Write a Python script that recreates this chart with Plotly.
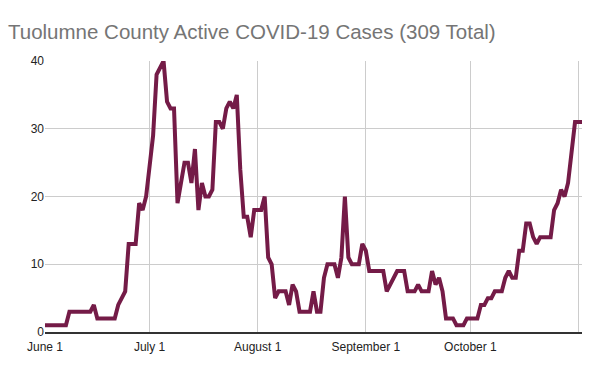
import pandas as pd
import plotly.graph_objects as go

start_date = "2020-06-01"
active_cases = [
    1, 1, 1, 1, 1, 1, 1,          # Jun 1-7
    3, 3, 3, 3, 3, 3, 3,          # Jun 8-14
    4, 2, 2, 2, 2, 2, 2,          # Jun 15-21
    4, 5, 6, 13, 13, 13, 19, 18, 20,  # Jun 22-30
    24, 29, 38, 39, 40, 34, 33, 33, 19, 22, 25, 25, 22, 27, 18, 22,
    20, 20, 21, 31, 31, 30, 33, 34, 33, 35, 24, 17, 17, 14, 18,  # Jul
    18, 18, 20, 11, 10, 5, 6, 6, 6, 4, 7, 6, 3, 3, 3, 3, 6, 3, 3,
    8, 10, 10, 10, 8, 11, 20, 11, 10, 10, 10,  # Aug
    13, 12, 9, 9, 9, 9, 9, 6, 7, 8, 9, 9, 9, 6, 6, 6, 7, 6, 6, 6,
    9, 7, 8, 6, 2, 2, 2, 1, 1, 1,  # Sep
    2, 2, 2, 2, 4, 4, 5, 5, 6, 6, 6, 8, 9, 8, 8, 12, 12, 16, 16, 14,
    13, 14, 14, 14, 14, 18, 19, 21, 20, 22, 26,  # Oct
    31, 31, 31,  # Nov 1-3
]
dates = pd.date_range(start_date, periods=len(active_cases), freq="D")

tick_dates = ["2020-06-01", "2020-07-01", "2020-08-01", "2020-09-01", "2020-10-01", "2020-11-01"]
tick_labels = ["June 1", "July 1", "August 1", "September 1", "October 1", ""]
y_ticks = [0, 10, 20, 30, 40]

fig = go.Figure()
fig.add_trace(go.Scatter(
    x=dates, y=active_cases, mode="lines",
    line=dict(color="#741b47", width=4),
    hoverinfo="x+y", showlegend=False,
))

fig.update_layout(
    width=600, height=371,
    margin=dict(l=45, r=18, t=61, b=39),
    paper_bgcolor="white", plot_bgcolor="white",
    font=dict(family="Liberation Sans, Arial, sans-serif", size=12, color="#222222"),
    title=dict(
        text="Tuolumne County Active COVID-19 Cases (309 Total)",
        font=dict(family="Liberation Sans, Arial, sans-serif", size=20.5, color="#757575"),
        x=8 / 600, xanchor="left", xref="container",
        y=1 - 32 / 371, yanchor="middle", yref="container",
    ),
    xaxis=dict(
        type="date",
        range=[dates[0], dates[-1]],
        tickvals=tick_dates, ticktext=tick_labels,
        showgrid=True, gridcolor="#cccccc", gridwidth=1,
        showline=True, linecolor="#333333", linewidth=1.5,
        ticks="", zeroline=False, ticklabelstandoff=3,
        tickfont=dict(size=12, color="#222222"),
    ),
    yaxis=dict(
        range=[0, 40], tickvals=y_ticks,
        showgrid=True, gridcolor="#cccccc", gridwidth=1,
        showline=False, zeroline=False, ticks="",
        tickfont=dict(size=12, color="#222222"),
    ),
)

fig.write_html(
    "out.html",
    config={"displayModeBar": False},
    post_script="document.body.style.margin='0';",
)
